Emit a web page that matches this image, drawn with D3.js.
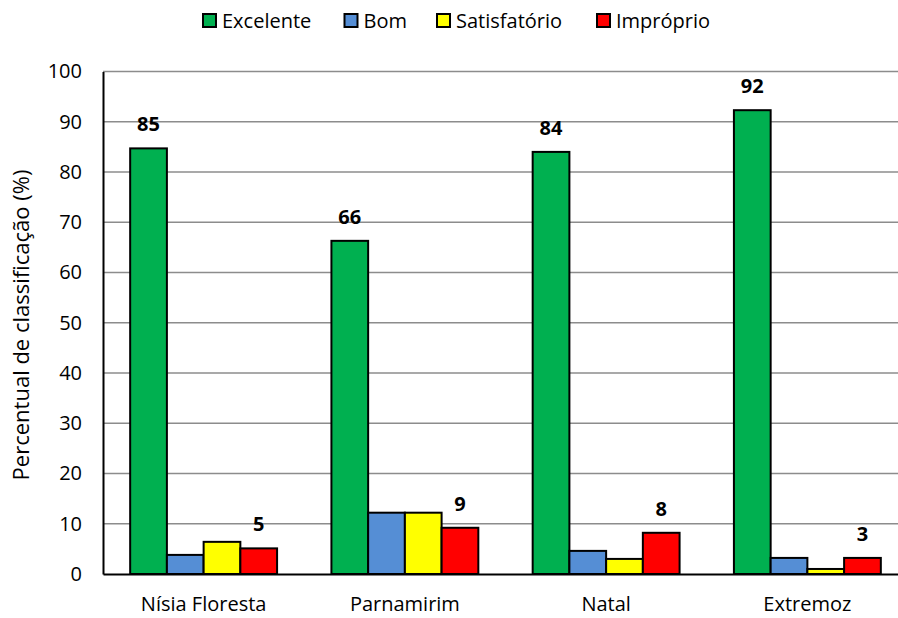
<!DOCTYPE html>
<html>
<head>
<meta charset="utf-8">
<script src="https://cdn.jsdelivr.net/npm/d3@7"></script>
<style>
  html, body { margin: 0; padding: 0; background: #fff; }
  svg text { font-family: "Open Sans", "Noto Sans", sans-serif; fill: #000; }
</style>
</head>
<body>
<svg id="chart" width="898" height="618"></svg>
<script>
// Municipalities and classification series (percent of samples)
const categories = ["Nísia Floresta", "Parnamirim", "Natal", "Extremoz"];
const seriesNames = ["Excelente", "Bom", "Satisfatório", "Impróprio"];
const seriesColors = ["#00B050", "#558ED5", "#FFFF00", "#FF0000"];
const excelente = [84.7, 66.3, 84.0, 92.3];
const bom = [3.8, 12.2, 4.6, 3.2];
const satisfatorio = [6.4, 12.2, 3.0, 1.0];
const improprio = [5.1, 9.2, 8.2, 3.2];
const yTicks = [0, 10, 20, 30, 40, 50, 60, 70, 80, 90, 100];
// Only these series carry value labels
const labelledSeries = ["Excelente", "Impróprio"];

const seriesValues = [excelente, bom, satisfatorio, improprio];
const rows = categories.map((c, i) => ({
  category: c,
  values: seriesNames.map((s, j) => ({ series: s, value: seriesValues[j][i], color: seriesColors[j] }))
}));

const svg = d3.select("#chart");
const margin = { left: 103, top: 71.5, bottom: 574 };
const plotRight = 908;

const x0 = d3.scaleBand().domain(categories).range([margin.left, plotRight]).paddingInner(0.27).paddingOuter(0.135);
const x1 = d3.scaleBand().domain(seriesNames).range([0, x0.bandwidth()]).padding(0);
const y = d3.scaleLinear().domain([0, 100]).range([margin.bottom, margin.top]);

// Horizontal gridlines
svg.append("g")
  .selectAll("line")
  .data(yTicks.filter(t => t > 0))
  .join("line")
  .attr("x1", margin.left).attr("x2", plotRight)
  .attr("y1", d => y(d)).attr("y2", d => y(d))
  .attr("stroke", "#8c8c8c").attr("stroke-width", 1.5);

// Y axis
const yAxis = svg.append("g")
  .attr("transform", `translate(${margin.left},0)`)
  .call(d3.axisLeft(y).tickValues(yTicks).tickSize(0).tickPadding(21));
yAxis.select(".domain").attr("stroke", "#000").attr("stroke-width", 2);
yAxis.selectAll("text").style("font-size", "20px");

// Bars
const groups = svg.append("g")
  .selectAll("g")
  .data(rows)
  .join("g")
  .attr("transform", d => `translate(${x0(d.category)},0)`);

groups.selectAll("rect")
  .data(d => d.values)
  .join("rect")
  .attr("x", d => x1(d.series))
  .attr("width", x1.bandwidth())
  .attr("y", d => y(d.value))
  .attr("height", d => y(0) - y(d.value))
  .attr("fill", d => d.color)
  .attr("stroke", "#000")
  .attr("stroke-width", 2);

// Value labels
groups.selectAll("text.val")
  .data(d => d.values.filter(v => labelledSeries.includes(v.series)))
  .join("text")
  .attr("class", "val")
  .attr("x", d => x1(d.series) + x1.bandwidth() / 2)
  .attr("y", d => y(d.value) - 17)
  .attr("text-anchor", "middle")
  .style("font-size", "20px")
  .style("font-weight", "bold")
  .text(d => d3.format(".0f")(d.value));

// X axis
const xAxis = svg.append("g")
  .attr("transform", `translate(0,${margin.bottom})`)
  .call(d3.axisBottom(x0).tickSize(0).tickPadding(23));
xAxis.select(".domain").attr("stroke", "#000").attr("stroke-width", 2);
xAxis.selectAll("text").style("font-size", "20px");

// Y axis title
svg.append("text")
  .attr("transform", "translate(29,325) rotate(-90)")
  .attr("text-anchor", "middle")
  .style("font-size", "22px")
  .text("Percentual de classificação (%)");

// Legend
const legendPos = [203, 344.5, 437, 597];
const legend = svg.append("g")
  .selectAll("g")
  .data(seriesNames)
  .join("g")
  .attr("transform", (d, i) => `translate(${legendPos[i]},14)`);
legend.append("rect")
  .attr("width", 13).attr("height", 13)
  .attr("fill", (d, i) => seriesColors[i])
  .attr("stroke", "#000").attr("stroke-width", 2);
legend.append("text")
  .attr("x", 19).attr("y", 13.5)
  .style("font-size", "20px")
  .text(d => d);
</script>
</body>
</html>
